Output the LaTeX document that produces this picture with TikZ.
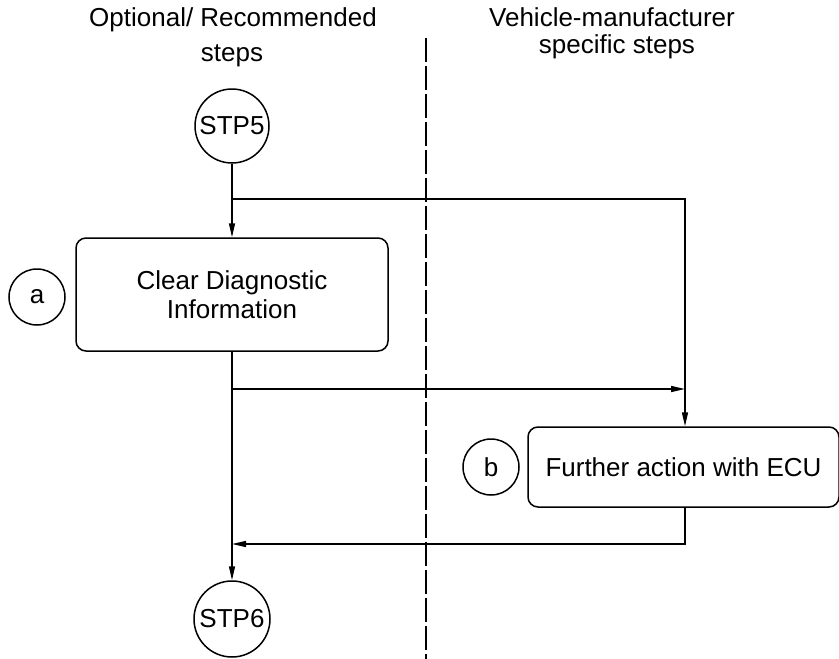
\documentclass[tikz,border=0pt]{standalone}
\usepackage{fontspec}
\setmainfont{Liberation Sans}
\usetikzlibrary{arrows.meta}
\begin{document}
\begin{tikzpicture}[x=1pt,y=-1pt,
  line width=1.5pt,
  >={Stealth[length=14pt,width=6pt,inset=0pt]},
  every node/.style={font=\fontsize{26}{29}\selectfont},
  circ/.style={draw,circle,inner sep=0pt},
  rbox/.style={draw,rounded corners=10pt,align=center,inner sep=0pt},
  lbl/.style={align=center,inner sep=0pt}]
\useasboundingbox (0,0) rectangle (839,659);
% headers
\node[lbl] (h1) at (233,20) {Optional/ Recommended};
\node[lbl] (h2) at (232,56) {steps};
\node[lbl] (h3) at (612,17) {Vehicle-manufacturer};
\node[lbl] (h4) at (617,47) {specific steps};
% divider
\coordinate (dtop) at (426,38);
\coordinate (dbot) at (426,659);
\draw[dash pattern=on 24pt off 4pt] (dtop) -- (dbot);
% nodes
\node[circ,minimum size=74pt] (stp5) at (232,126) {STP5};
\node[rbox,minimum width=312pt,minimum height=113pt] (clr) at (232,294.5) {Clear Diagnostic\\Information};
\node[circ,minimum size=56pt] (a) at (37,297) {a};
\node[rbox,minimum width=311pt,minimum height=80pt] (ecu) at (683.5,467) {Further action with ECU};
\node[circ,minimum size=56pt] (b) at (491,467) {b};
\node[circ,minimum size=76pt] (stp6) at (232,619) {STP6};
% helper coordinates
\coordinate (j1) at (232,199);
\coordinate (j2) at (232,389);
\coordinate (rx) at (685,0);
\coordinate (j3) at (232,544);
% connectors
\draw[->] (stp5) -- (clr);
\draw[->] (j1) -| (rx |- ecu.north);
\draw[->] (clr) -- (stp6);
\draw[->] (j2) -- (rx |- j2);
\draw[->] (rx |- ecu.south) |- (j3);
\end{tikzpicture}
\end{document}
